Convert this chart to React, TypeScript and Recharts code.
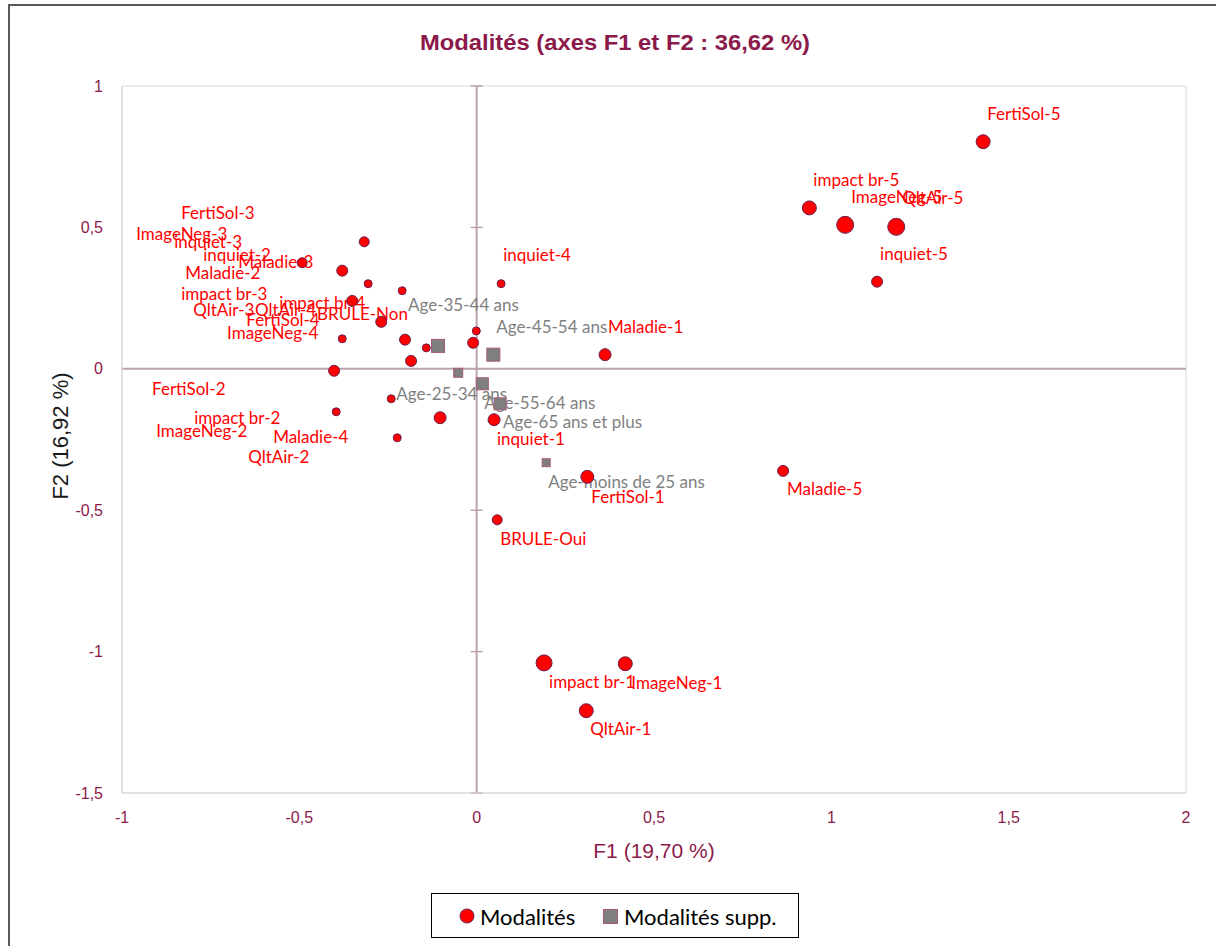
import React from 'react';
import { ScatterChart, Scatter, XAxis, YAxis, ReferenceLine, ReferenceArea, Legend } from 'recharts';

// ---- Data ----
const modalites = [
  'FertiSol-1', 'FertiSol-2', 'FertiSol-3', 'FertiSol-4', 'FertiSol-5',
  'ImageNeg-1', 'ImageNeg-2', 'ImageNeg-3', 'ImageNeg-4', 'ImageNeg-5',
  'inquiet-1', 'inquiet-2', 'inquiet-3', 'inquiet-4', 'inquiet-5',
  'impact br-1', 'impact br-2', 'impact br-3', 'impact br-4', 'impact br-5',
  'Maladie-1', 'Maladie-2', 'Maladie-3', 'Maladie-4', 'Maladie-5',
  'QltAir-1', 'QltAir-2', 'QltAir-3', 'QltAir-4', 'QltAir-5',
  'BRULE-Oui', 'BRULE-Non',
];
const f1Modalites = [
  0.312, -0.402, -0.317, -0.142, 1.428,
  0.419, -0.396, -0.492, -0.185, 1.039,
  0.049, -0.306, -0.379, 0.069, 1.129,
  0.190, -0.241, -0.269, -0.001, 0.938,
  0.362, -0.351, -0.210, -0.103, 0.864,
  0.309, -0.224, -0.379, -0.202, 1.183,
  0.058, -0.010,
];
const f2Modalites = [
  -0.382, -0.007, 0.449, 0.074, 0.803,
  -1.043, -0.152, 0.375, 0.028, 0.509,
  -0.180, 0.301, 0.347, 0.301, 0.308,
  -1.040, -0.106, 0.166, 0.134, 0.569,
  0.050, 0.240, 0.276, -0.173, -0.361,
  -1.209, -0.244, 0.106, 0.103, 0.502,
  -0.534, 0.092,
];
const poidsModalites = [
  169, 121, 100, 64, 196,
  196, 64, 100, 121, 289,
  144, 64, 121, 64, 121,
  256, 64, 121, 64, 196,
  144, 121, 64, 144, 121,
  196, 64, 64, 121, 289,
  100, 121,
];

const modalitesSupp = [
  'Age-moins de 25 ans', 'Age-25-34 ans', 'Age-35-44 ans',
  'Age-45-54 ans', 'Age-55-64 ans', 'Age-65 ans et plus',
];
const f1Supp = [0.196, -0.052, -0.109, 0.047, 0.016, 0.066];
const f2Supp = [-0.332, -0.014, 0.081, 0.050, -0.053, -0.124];
const poidsSupp = [64, 81, 169, 169, 144, 144];

const xTicks = [-1, -0.5, 0, 0.5, 1, 1.5, 2];
const yTicks = [-1.5, -1, -0.5, 0, 0.5, 1];

const title = 'Modalités (axes F1 et F2 : 36,62 %)';
const xTitle = 'F1 (19,70 %)';
const yTitle = 'F2 (16,92 %)';
const legendLabels = ['Modalités', 'Modalités supp.'];

// ---- Label placement (pixel offsets from the marker centre) ----
const labelOffsets: Record<string, [number, number]> = {
  'FertiSol-1': [4, 20], 'FertiSol-2': [-182, 18], 'FertiSol-3': [-183, -29], 'FertiSol-4': [-180, -28], 'FertiSol-5': [4, -28],
  'ImageNeg-1': [6, 19], 'ImageNeg-2': [-180, 19], 'ImageNeg-3': [-166, -29], 'ImageNeg-4': [-184, -28], 'ImageNeg-5': [6, -28],
  'inquiet-1': [3, 19], 'inquiet-2': [-165, -29], 'inquiet-3': [-168, -29], 'inquiet-4': [2, -29], 'inquiet-5': [3, -28],
  'impact br-1': [5, 19], 'impact br-2': [-197, 19], 'impact br-3': [-200, -28], 'impact br-4': [-197, -28], 'impact br-5': [4, -28],
  'Maladie-1': [3, -28], 'Maladie-2': [-167, -28], 'Maladie-3': [-164, -29], 'Maladie-4': [-167, 19], 'Maladie-5': [4, 18],
  'QltAir-1': [4, 18], 'QltAir-2': [-149, 19], 'QltAir-3': [-149, -29], 'QltAir-4': [-150, -30], 'QltAir-5': [6, -29],
  'BRULE-Oui': [3, 19], 'BRULE-Non': [-156, -29],
  'Age-moins de 25 ans': [2, 19], 'Age-25-34 ans': [-62, 21], 'Age-35-44 ans': [-30, -41],
  'Age-45-54 ans': [3, -28], 'Age-55-64 ans': [2, 19], 'Age-65 ans et plus': [3, 18],
};

const dataModalites = modalites.map((name, i) => ({ name, x: f1Modalites[i], y: f2Modalites[i], w: poidsModalites[i] }));
const dataSupp = modalitesSupp.map((name, i) => ({ name, x: f1Supp[i], y: f2Supp[i], w: poidsSupp[i] }));

const MAROON = '#8B1A4A';
const RED = '#FF0000';
const RED_STROKE = '#6A1F4E';
const GRAY = '#7F7F7F';
const SQ_STROKE = '#A8587A';
const AXIS0 = '#BDA3AE';
const BORDER = '#D9D9D9';
const LABEL_FONT = 'Lato, "Liberation Sans", sans-serif';
const AXIS_FONT = '"Liberation Sans", Arial, sans-serif';

const fmt = (v: number) => String(v).replace('.', ',');

const makeLabelShape = (color: string) => (props: any) => {
  const { cx, cy, payload } = props;
  const off = labelOffsets[payload.name] || [4, -28];
  return (
    <text x={cx + off[0]} y={cy + off[1]} dominantBaseline="central" fill={color}
      fontFamily={LABEL_FONT} fontSize={17}>{payload.name}</text>
  );
};

const circleShape = (props: any) => {
  const { cx, cy, payload } = props;
  const r = Math.sqrt(payload.w) / 2;
  return <circle cx={cx} cy={cy} r={r} fill={RED} stroke={RED_STROKE} strokeWidth={1} />;
};

const squareShape = (props: any) => {
  const { cx, cy, payload } = props;
  const s = Math.sqrt(payload.w);
  return <rect x={cx - s / 2} y={cy - s / 2} width={s} height={s} fill={GRAY} stroke={SQ_STROKE} strokeWidth={1} />;
};

const LegendBox = () => (
  <svg width={368} height={45} style={{ display: 'block' }}>
    <rect x={0.5} y={0.5} width={367} height={44} fill="#fff" stroke="#000" strokeWidth={1} />
    <circle cx={36} cy={23} r={7} fill={RED} stroke={RED_STROKE} strokeWidth={1} />
    <text x={49} y={23} dominantBaseline="central" fontFamily={LABEL_FONT} fontSize={22} fill="#000">{legendLabels[0]}</text>
    <rect x={172.5} y={16.5} width={14} height={14} fill={GRAY} stroke={SQ_STROKE} strokeWidth={1} />
    <text x={193} y={23} dominantBaseline="central" fontFamily={LABEL_FONT} fontSize={22} fill="#000">{legendLabels[1]}</text>
  </svg>
);

export default function App() {
  return (
    <div style={{ position: 'relative', width: 1216, height: 946, background: '#fff', overflow: 'hidden' }}>
      <style>{'body{margin:0;}'}</style>
      <ScatterChart width={1216} height={946} margin={{ top: 86, right: 30, left: 0, bottom: 0 }}>
        <XAxis type="number" dataKey="x" domain={[-1, 2]} ticks={xTicks} tickFormatter={fmt}
          axisLine={{ stroke: BORDER }} tickLine={false} tickMargin={13} height={153}
          tick={{ fill: MAROON, fontSize: 16, fontFamily: AXIS_FONT }} allowDataOverflow />
        <YAxis type="number" dataKey="y" domain={[-1.5, 1]} ticks={yTicks} tickFormatter={fmt}
          axisLine={{ stroke: BORDER }} tickLine={false} tickMargin={13} width={122}
          tick={{ fill: MAROON, fontSize: 16, fontFamily: AXIS_FONT }} allowDataOverflow />
        <ReferenceArea x1={-1} x2={2} y1={-1.5} y2={1} fill="none" stroke={BORDER} strokeWidth={1} />
        <ReferenceLine x={0} stroke={AXIS0} strokeWidth={2} />
        <ReferenceLine y={0} stroke={AXIS0} strokeWidth={2} />
        {yTicks.map((v) => (
          <ReferenceLine key={v} segment={[{ x: -0.017, y: v }, { x: 0.017, y: v }]} stroke={AXIS0} strokeWidth={1.5} ifOverflow="visible" />
        ))}
        <Legend layout="horizontal" verticalAlign="middle" align="center"
          wrapperStyle={{ left: 431, top: 893, width: 368, height: 45 }}
          content={() => <LegendBox />} />
        <Scatter data={dataModalites} shape={makeLabelShape(RED)} isAnimationActive={false} legendType="none" />
        <Scatter data={dataSupp} shape={makeLabelShape(GRAY)} isAnimationActive={false} legendType="none" />
        <Scatter name={legendLabels[0]} data={dataModalites} shape={circleShape} isAnimationActive={false} />
        <Scatter name={legendLabels[1]} data={dataSupp} shape={squareShape} isAnimationActive={false} />
      </ScatterChart>
      <svg width={1216} height={946} style={{ position: 'absolute', left: 0, top: 0, pointerEvents: 'none' }}>
        <rect x={9} y={5} width={1240} height={980} fill="none" stroke="#595959" strokeWidth={2} />
        <text x={615} y={42} textAnchor="middle" dominantBaseline="central" fontFamily={AXIS_FONT}
          fontWeight="bold" fontSize={22} fill={MAROON} textLength={390} lengthAdjust="spacingAndGlyphs">{title}</text>
        <text x={654} y={850} textAnchor="middle" dominantBaseline="central" fontFamily={AXIS_FONT}
          fontSize={21} fill={MAROON}>{xTitle}</text>
        <text x={60} y={436} textAnchor="middle" dominantBaseline="central" fontFamily={AXIS_FONT}
          fontSize={22} fill="#1a1a1a" transform="rotate(-90 60 436)">{yTitle}</text>
      </svg>
    </div>
  );
}
